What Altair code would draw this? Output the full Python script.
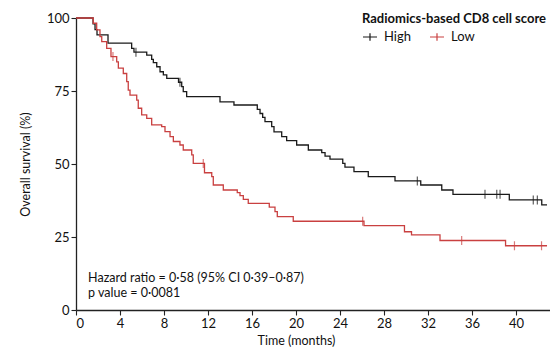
import altair as alt
import pandas as pd

# ---- data (months, % surviving) ----
high_t = [0, 1.55, 1.73, 1.91, 2.91, 5.06, 5.27, 6.43, 6.88, 7.03, 7.34, 7.64, 7.94, 8.25,
          9.32, 9.61, 9.75, 10.06, 13.09, 14.36, 16.48, 16.73, 16.97, 17.18, 17.79, 18.0,
          18.7, 19.15, 20.06, 21.12, 22.34, 22.64, 23.09, 24.25, 24.45, 25.27, 26.57, 29.0,
          31.34, 33.25, 34.27, 39.39, 42.34, 42.82]
high_s = [100, 98, 96, 94.2, 91.4, 89.6, 88.3, 87.3, 85.8, 84.7, 83.3, 81.6, 80.5, 79.3,
          78.0, 76.5, 74.8, 73.1, 71.3, 70.2, 68.7, 67.3, 66.0, 64.5, 62.8, 61.0,
          59.4, 58.0, 56.5, 54.8, 53.9, 52.7, 51.7, 50.2, 48.9, 47.4, 45.7, 44.2,
          42.8, 41.1, 39.6, 37.7, 36.0, 36.0]
high_cens_t = [5.45, 9.45, 31.03, 37.18, 38.25, 38.55, 41.57, 41.94]
high_cens_s = [88.3, 78.0, 44.2, 39.6, 39.6, 39.6, 37.7, 37.7]

low_t = [0, 1.43, 1.57, 1.88, 2.18, 2.34, 2.79, 3.18, 3.7, 3.85, 4.3, 4.61, 4.75, 4.91,
         5.52, 5.66, 5.97, 6.43, 6.88, 7.79, 8.09, 8.55, 8.85, 9.45, 9.75, 10.52, 10.66,
         11.68, 12.34, 12.48, 13.39, 14.66, 14.91, 15.21, 15.66, 17.57, 18.09, 18.3, 19.75,
         26.18, 29.86, 30.5, 33.09, 39.05, 42.82]
low_s = [100, 100, 98.2, 95.9, 93.6, 91.9, 89.6, 86.8, 85.0, 82.8, 81.0, 78.2, 75.3, 73.6,
         71.9, 69.1, 66.8, 65.6, 63.4, 62.8, 61.1, 59.4, 57.7, 56.5, 54.8, 53.1, 50.2,
         47.0, 45.7, 42.8, 41.1, 40.2, 39.2, 37.9, 36.5, 35.2, 33.7, 32.0, 30.4,
         28.9, 26.8, 25.7, 23.8, 22.0, 22.0]
low_cens_t = [3.36, 11.57, 26.06, 35.06, 39.86, 42.32]
low_cens_s = [86.8, 50.2, 30.4, 23.8, 22.0, 22.0]

groups = ["High", "Low"]
colors = ["#1a1a1a", "#c94040"]
x_ticks = [0, 4, 8, 12, 16, 20, 24, 28, 32, 36, 40]
y_ticks = [0, 25, 50, 75, 100]
note_lines = ["Hazard ratio = 0·58 (95% CI 0·39–0·87)", "p value = 0·0081"]
note_t = [1.1, 1.1]
note_s = [10.9, 5.7]

curves = pd.concat([
    pd.DataFrame({"t": high_t, "s": high_s, "g": "High"}),
    pd.DataFrame({"t": low_t, "s": low_s, "g": "Low"}),
])
cens = pd.concat([
    pd.DataFrame({"t": high_cens_t, "s": high_cens_s, "g": "High"}),
    pd.DataFrame({"t": low_cens_t, "s": low_cens_s, "g": "Low"}),
])
notes = pd.DataFrame({"t": note_t, "s": note_s, "txt": note_lines})

FONT = "Lato"

xs = alt.Scale(domain=[0, 43.09], nice=False, zero=False)
ys = alt.Scale(domain=[0, 100], nice=False)
cs = alt.Scale(domain=groups, range=colors)

x_enc = alt.X("t:Q", scale=xs, axis=alt.Axis(values=x_ticks, title="Time (months)",
              titleX=220, titlePadding=4, grid=False))
y_enc = alt.Y("s:Q", scale=ys, axis=alt.Axis(values=y_ticks, title="Overall survival (%)",
              titlePadding=14, grid=False))

lines = alt.Chart(curves).mark_line(interpolate="step-after", strokeWidth=1.3).encode(
    x=x_enc, y=y_enc,
    color=alt.Color("g:N", scale=cs, legend=alt.Legend(
        title="Radiomics-based CD8 cell score", orient="none", legendX=286, legendY=-5,
        direction="horizontal", titleFontWeight="bold", titleFontSize=13, titleFont=FONT,
        titleColor="#111", titleLimit=400, labelLimit=200,
        labelFont=FONT, labelFontSize=13, labelColor="#111",
        symbolType="M-1,0L1,0M0,-0.55L0,0.55", symbolSize=196, symbolStrokeWidth=1.2,
        symbolFillColor="transparent", columnPadding=16, labelOffset=6, titlePadding=3)),
)
ticks = alt.Chart(cens).mark_tick(orient="vertical", size=9, thickness=1.2).encode(
    x="t:Q", y="s:Q", color=alt.Color("g:N", scale=cs, legend=None))
text = alt.Chart(notes).mark_text(align="left", baseline="middle", font=FONT,
                                  fontSize=12.5, color="#111").encode(
    x="t:Q", y="s:Q", text="txt:N")

chart = alt.layer(lines, ticks, text).properties(
    width=474, height=292,
    padding={"left": 76, "top": 18, "right": 0, "bottom": 38},
    autosize=alt.AutoSizeParams(type="none"),
).configure_view(stroke=None).configure_axis(
    labelFont=FONT, titleFont=FONT, labelFontSize=13, titleFontSize=12.5,
    titleFontWeight="normal", labelColor="#111", titleColor="#111",
    domainColor="#222", tickColor="#222", domainWidth=1.3, tickWidth=1.1,
    tickSize=5, labelPadding=2,
)

chart.save("out.html", embed_options={"renderer": "svg", "actions": False})
